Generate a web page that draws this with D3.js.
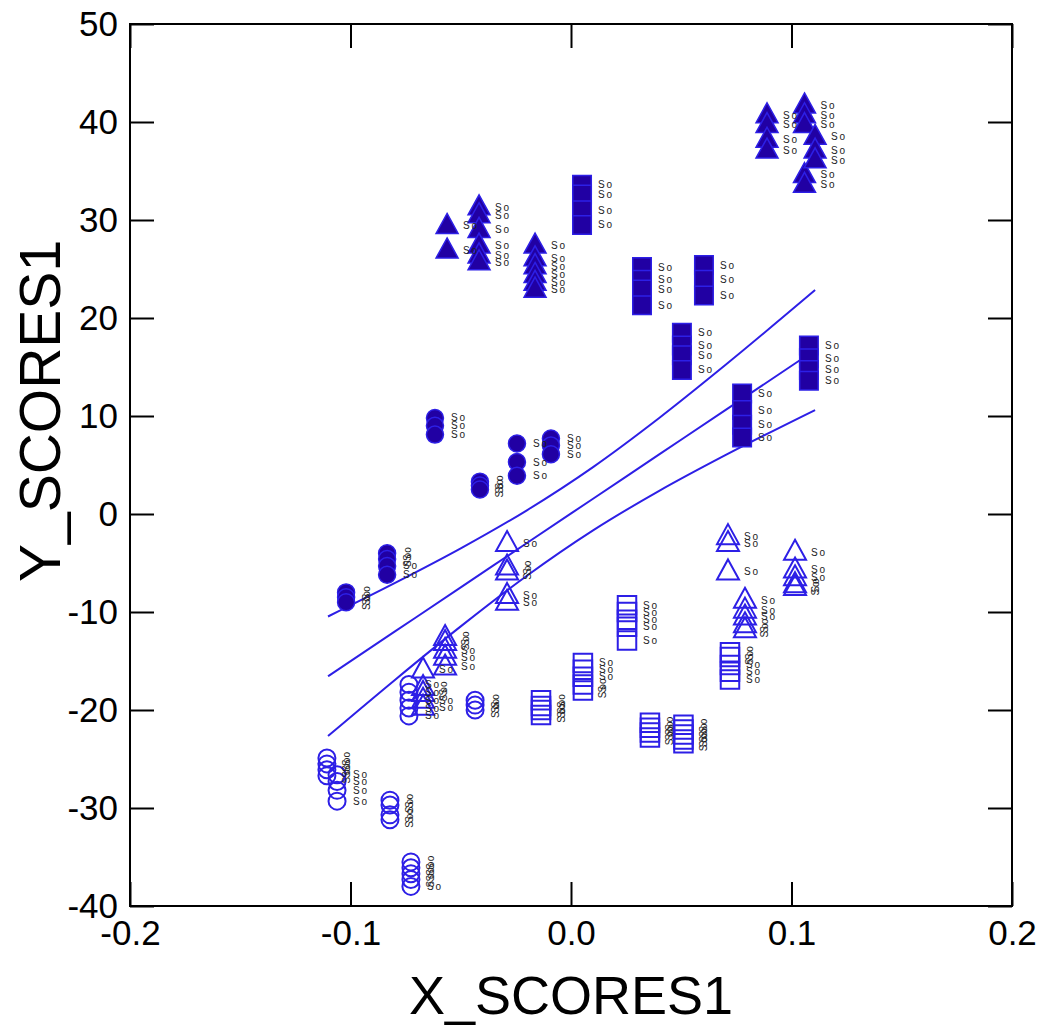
<!DOCTYPE html>
<html>
<head>
<meta charset="utf-8">
<script src="https://cdn.jsdelivr.net/npm/d3@7"></script>
<style>
  html, body { margin: 0; padding: 0; background: #fff; }
  svg { display: block; font-family: "Liberation Sans", Arial, sans-serif; }
</style>
</head>
<body>
<svg id="chart" width="1041" height="1029"></svg>
<script>
// Score pairs [X_SCORES1, Y_SCORES1], one array per marker class
const openCircles = [
  [-0.1107, -24.9], [-0.1107, -25.5], [-0.1107, -26.1], [-0.1107, -26.7],
  [-0.1061, -26.6], [-0.1061, -27.3], [-0.1061, -28.2], [-0.1061, -29.3],
  [-0.0821, -29.2], [-0.0821, -29.7], [-0.0821, -30.7], [-0.0821, -31.2],
  [-0.0726, -35.5], [-0.0726, -36.1], [-0.0726, -36.7], [-0.0726, -37.3], [-0.0726, -38.0],
  [-0.0735, -17.4], [-0.0735, -18.2], [-0.0735, -19.0], [-0.0735, -19.8], [-0.0735, -20.6],
  [-0.0435, -19.0], [-0.0435, -19.5], [-0.0435, -20.0]
];
const filledCircles = [
  [-0.1020, -8.0], [-0.1020, -8.5], [-0.1020, -9.0],
  [-0.0834, -4.0], [-0.0834, -4.6], [-0.0834, -5.3], [-0.0834, -6.2],
  [-0.0617, 9.8], [-0.0617, 9.0], [-0.0617, 8.1],
  [-0.0413, 3.3], [-0.0413, 2.9], [-0.0413, 2.5],
  [-0.0245, 7.2], [-0.0245, 5.3], [-0.0245, 3.9],
  [-0.0091, 7.7], [-0.0091, 7.0], [-0.0091, 6.1]
];
const openTriangles = [
  [-0.0290, -3.0], [-0.0290, -5.4], [-0.0290, -5.9], [-0.0290, -8.3], [-0.0290, -9.0],
  [-0.0571, -12.6], [-0.0571, -13.1], [-0.0571, -13.9], [-0.0571, -14.6], [-0.0571, -15.6],
  [-0.0671, -15.9], [-0.0671, -17.7], [-0.0671, -18.3], [-0.0671, -19.0], [-0.0671, -19.7],
  [0.0712, -2.3], [0.0712, -3.0], [0.0712, -5.9],
  [0.0789, -8.8], [0.0789, -9.8], [0.0789, -10.5], [0.0789, -11.3], [0.0789, -11.8],
  [0.1016, -3.9], [0.1016, -5.7], [0.1016, -6.5], [0.1016, -7.2], [0.1016, -7.5]
];
const openSquares = [
  [-0.0136, -19.0], [-0.0136, -19.6], [-0.0136, -20.0], [-0.0136, -20.5],
  [0.0054, -15.2], [0.0054, -15.9], [0.0054, -16.6], [0.0054, -17.4], [0.0054, -18.0],
  [0.0254, -9.3], [0.0254, -10.0], [0.0254, -10.8], [0.0254, -11.5], [0.0254, -12.9],
  [0.0721, -14.1], [0.0721, -14.6], [0.0721, -15.4], [0.0721, -16.1], [0.0721, -16.9],
  [0.0358, -21.3], [0.0358, -21.8], [0.0358, -22.3], [0.0358, -22.8],
  [0.0510, -21.5], [0.0510, -22.0], [0.0510, -22.5], [0.0510, -23.0], [0.0510, -23.4]
];
const filledSquares = [
  [0.0050, 33.6], [0.0050, 32.6], [0.0050, 31.0], [0.0050, 29.5],
  [0.0322, 25.2], [0.0322, 23.9], [0.0322, 22.9], [0.0322, 21.3],
  [0.0603, 25.4], [0.0603, 23.9], [0.0603, 22.3],
  [0.0503, 18.5], [0.0503, 17.2], [0.0503, 16.2], [0.0503, 14.7],
  [0.0776, 12.3], [0.0776, 10.6], [0.0776, 9.1], [0.0776, 7.8],
  [0.1079, 17.2], [0.1079, 15.9], [0.1079, 14.7], [0.1079, 13.6]
];
const filledTriangles = [
  [-0.0562, 29.4], [-0.0562, 26.9],
  [-0.0417, 31.3], [-0.0417, 30.5], [-0.0417, 29.0], [-0.0417, 27.4], [-0.0417, 26.4], [-0.0417, 25.7],
  [-0.0163, 27.4], [-0.0163, 26.1], [-0.0163, 25.3], [-0.0163, 24.4], [-0.0163, 23.6], [-0.0163, 22.9],
  [0.0889, 40.7], [0.0889, 39.7], [0.0889, 38.2], [0.0889, 37.1],
  [0.1059, 41.7], [0.1059, 40.7], [0.1059, 39.7], [0.1059, 34.6], [0.1059, 33.6],
  [0.1107, 38.5], [0.1107, 37.1], [0.1107, 36.1]
];

// Fitted line and its confidence band, sampled along X_SCORES1
const fitX      = [-0.1102, -0.08, -0.05, -0.02, 0.01, 0.04, 0.07, 0.1107];
const fitY      = [-16.56, -12.01, -7.49, -2.96, 1.56, 6.08, 10.60, 16.73];
const bandUpper = [-10.46, -7.06, -3.51, 0.38, 4.79, 9.80, 15.20, 22.85];
const bandLower = [-22.66, -16.96, -11.47, -6.30, -1.67, 2.36, 6.00, 10.61];

const xTicks = [-0.2, -0.1, 0.0, 0.1, 0.2];
const yTicks = [-40, -30, -20, -10, 0, 10, 20, 30, 40, 50];
const pointLabel = "So";

(function draw() {
  const blue = "#2d1fe6";
  const darkBlue = "#2100a3";

  const svg = d3.select("#chart");
  const m = { left: 130, right: 1012, top: 24, bottom: 906 };

  const x = d3.scaleLinear().domain([-0.2, 0.2]).range([m.left, m.right]);
  const y = d3.scaleLinear().domain([-40, 50]).range([m.bottom, m.top]);

  // Plain hyphen for negative tick values
  const fmtX = d => d3.format(".1f")(d).replace("\u2212", "-");
  const fmtY = d => d3.format("d")(d).replace("\u2212", "-");

  // Frame and inward ticks on all four sides
  const tickLen = 24;
  const axes = svg.append("g").attr("class", "axes");
  axes.append("g").attr("transform", `translate(0,${m.bottom})`)
    .call(d3.axisBottom(x).tickValues(xTicks).tickSize(-tickLen).tickPadding(14).tickFormat(fmtX));
  axes.append("g").attr("transform", `translate(0,${m.top})`)
    .call(d3.axisTop(x).tickValues(xTicks).tickSize(-tickLen).tickFormat(""));
  axes.append("g").attr("transform", `translate(${m.left},0)`)
    .call(d3.axisLeft(y).tickValues(yTicks).tickSize(-tickLen).tickPadding(12).tickFormat(fmtY));
  axes.append("g").attr("transform", `translate(${m.right},0)`)
    .call(d3.axisRight(y).tickValues(yTicks).tickSize(-tickLen).tickFormat(""));
  axes.selectAll(".domain").remove();
  axes.selectAll(".tick line").attr("stroke", "#000").attr("stroke-width", 2);
  axes.selectAll(".tick text").attr("font-size", 35).attr("fill", "#000")
    .attr("font-family", "Liberation Sans, Arial, sans-serif");
  axes.append("rect").attr("x", m.left).attr("y", m.top)
    .attr("width", m.right - m.left).attr("height", m.bottom - m.top)
    .attr("fill", "none").attr("stroke", "#000").attr("stroke-width", 2);

  // Axis titles
  svg.append("text").attr("x", (m.left + m.right) / 2).attr("y", 1014)
    .attr("text-anchor", "middle").attr("font-size", 54).text("X_SCORES1");
  svg.append("text")
    .attr("transform", `translate(60,411) rotate(-90)`)
    .attr("text-anchor", "middle").attr("font-size", 57).text("Y_SCORES1");

  // Regression line and confidence band
  const lineFrom = vals => d3.line().curve(d3.curveMonotoneX)
    .x((d, i) => x(fitX[i])).y(d => y(d))(vals);
  const fitG = svg.append("g");
  [bandUpper, fitY, bandLower].forEach(vals => {
    fitG.append("path").attr("d", lineFrom(vals))
      .attr("fill", "none").attr("stroke", blue).attr("stroke-width", 2);
  });

  // Marker shapes
  const tri = s => `M0,${-s * 0.62}L${s * 0.55},${s * 0.38}L${-s * 0.55},${s * 0.38}Z`;
  const sq = s => `M${-s / 2},${-s / 2}h${s}v${s}h${-s}Z`;
  const circ = r => `M${r},0A${r},${r} 0 1,1 ${-r},0A${r},${r} 0 1,1 ${r},0Z`;

  const series = [
    { data: openCircles, path: circ(8.5), filled: false },
    { data: openTriangles, path: tri(20), filled: false },
    { data: openSquares, path: sq(18.5), filled: false },
    { data: filledCircles, path: circ(8.5), filled: true },
    { data: filledSquares, path: sq(18.5), filled: true },
    { data: filledTriangles, path: tri(20), filled: true }
  ];

  const markG = svg.append("g");
  const labelG = svg.append("g");
  series.forEach(s => {
    markG.append("g").selectAll("path").data(s.data).join("path")
      .attr("transform", d => `translate(${x(d[0])},${y(d[1])})`)
      .attr("d", s.path)
      .attr("fill", s.filled ? darkBlue : "none")
      .attr("stroke", blue)
      .attr("stroke-width", s.filled ? 1.5 : 2);

    // A label turns upright when a neighbour in its column crowds it
    s.data.forEach((d, i) => {
      const px = x(d[0]), py = y(d[1]);
      const crowded = s.data.some((e, j) => j !== i && Math.abs(e[0] - d[0]) < 0.0005 &&
        Math.abs(y(e[1]) - py) < 6);
      const t = labelG.append("text")
        .attr("font-size", 10).attr("fill", "#222")
        .attr("letter-spacing", 1.8)
        .text(pointLabel);
      if (crowded) {
        t.attr("text-anchor", "middle").attr("dy", "0.35em")
          .attr("transform", `translate(${px + 20},${py}) rotate(-90)`);
      } else {
        t.attr("x", px + 16).attr("y", py).attr("dy", "0.35em");
      }
    });
  });
})();
</script>
</body>
</html>
